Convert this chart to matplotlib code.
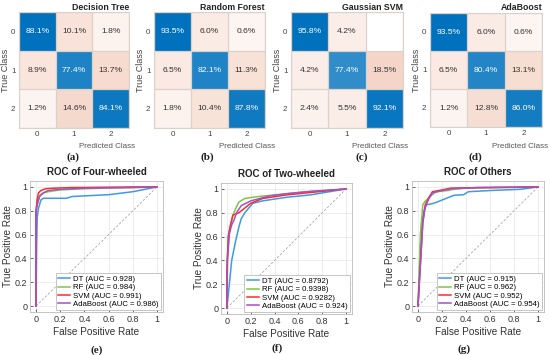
import matplotlib
matplotlib.use('Agg')
import matplotlib.pyplot as plt
import numpy as np

plt.rcParams['font.family'] = ['Liberation Sans', 'DejaVu Sans']

W, H = 550, 355

# ── confusion matrices (row-normalised %) ─────────────────────────────────────
cm_titles = ["Decision Tree", "Random Forest", "Gaussian SVM", "AdaBoost"]
cm_dt  = [[88.1, 10.1, 1.8], [8.9, 77.4, 13.7], [1.2, 14.6, 84.1]]
cm_rf  = [[93.5, 6.0, 0.6], [6.5, 82.1, 11.3], [1.8, 10.4, 87.8]]
cm_svm = [[95.8, 4.2, 0.0], [4.2, 77.4, 18.5], [2.4, 5.5, 92.1]]
cm_ada = [[93.5, 6.0, 0.6], [6.5, 80.4, 13.1], [1.2, 12.8, 86.0]]
class_labels = ["0", "1", "2"]
cm_panels = ["(a)", "(b)", "(c)", "(d)"]

# ── ROC curves (fpr, tpr) ─────────────────────────────────────────────────────
roc_titles = ["ROC of Four-wheeled", "ROC of Two-wheeled", "ROC of Others"]
roc_panels = ["(e)", "(f)", "(g)"]
models = ["DT", "RF", "SVM", "AdaBoost"]
auc_4w = ["0.928", "0.984", "0.991", "0.986"]
auc_2w = ["0.8792", "0.9398", "0.9282", "0.924"]
auc_ot = ["0.915", "0.962", "0.952", "0.954"]

fw_dt_x  = [0, 0.005, 0.01, 0.02, 0.04, 0.06, 0.1, 0.25, 0.3, 0.5, 0.6, 0.8, 1]
fw_dt_y  = [0, 0.5, 0.75, 0.82, 0.89, 0.905, 0.905, 0.905, 0.92, 0.93, 0.935, 0.96, 1]
fw_rf_x  = [0, 0, 0.01, 0.03, 0.06, 0.1, 0.2, 0.4, 0.6, 1]
fw_rf_y  = [0, 0.8, 0.88, 0.93, 0.95, 0.96, 0.975, 0.985, 0.99, 1]
fw_svm_x = [0, 0, 0.01, 0.02, 0.04, 0.08, 0.15, 0.3, 0.8, 1]
fw_svm_y = [0, 0.8, 0.9, 0.95, 0.97, 0.985, 0.99, 0.995, 1, 1]
fw_ada_x = [0, 0, 0.01, 0.03, 0.06, 0.1, 0.2, 0.4, 0.8, 1]
fw_ada_y = [0, 0.78, 0.85, 0.92, 0.95, 0.97, 0.98, 0.99, 0.995, 1]

tw_dt_x  = [0, 0.02, 0.04, 0.07, 0.1, 0.12, 0.15, 0.2, 0.22, 0.3, 0.5, 0.7, 1]
tw_dt_y  = [0, 0.2, 0.4, 0.55, 0.68, 0.75, 0.8, 0.86, 0.88, 0.9, 0.93, 0.95, 1]
tw_rf_x  = [0, 0, 0.02, 0.05, 0.08, 0.1, 0.15, 0.25, 0.4, 0.6, 0.8, 1]
tw_rf_y  = [0, 0.4, 0.65, 0.78, 0.85, 0.89, 0.92, 0.935, 0.95, 0.97, 0.985, 1]
tw_svm_x = [0, 0, 0.01, 0.03, 0.05, 0.1, 0.15, 0.2, 0.3, 0.5, 0.7, 1]
tw_svm_y = [0, 0.3, 0.6, 0.7, 0.78, 0.8, 0.84, 0.88, 0.92, 0.95, 0.97, 1]
tw_ada_x = [0, 0.005, 0.02, 0.04, 0.06, 0.08, 0.12, 0.2, 0.35, 0.5, 0.7, 1]
tw_ada_y = [0, 0.4, 0.62, 0.7, 0.74, 0.8, 0.86, 0.9, 0.94, 0.96, 0.98, 1]

ot_dt_x  = [0, 0.03, 0.05, 0.07, 0.12, 0.15, 0.2, 0.25, 0.3, 0.38, 0.42, 0.6, 0.85, 1]
ot_dt_y  = [0, 0.7, 0.8, 0.85, 0.86, 0.87, 0.89, 0.91, 0.93, 0.935, 0.96, 0.97, 0.98, 1]
ot_rf_x  = [0, 0.02, 0.04, 0.06, 0.1, 0.15, 0.25, 0.3, 0.4, 1]
ot_rf_y  = [0, 0.6, 0.85, 0.88, 0.92, 0.96, 0.97, 0.98, 0.99, 1]
ot_svm_x = [0, 0.04, 0.06, 0.09, 0.12, 0.2, 0.27, 0.5, 1]
ot_svm_y = [0, 0.7, 0.85, 0.91, 0.96, 0.975, 0.99, 0.995, 1]
ot_ada_x = [0, 0.04, 0.06, 0.09, 0.12, 0.2, 0.28, 0.5, 0.8, 1]
ot_ada_y = [0, 0.7, 0.83, 0.9, 0.95, 0.97, 0.985, 0.995, 0.997, 1]

roc_colors = ['#3D9BE3', '#7DC843', '#FF2A2A', '#A64FC9']

BLUE = np.array([0.0, 0.447, 0.741])
ORNG = np.array([0.85, 0.325, 0.098])
EDGE = '#DCD2CC'

fig = plt.figure(figsize=(W / 100, H / 100), dpi=100)
fig.patch.set_facecolor('white')


def px_axes(x0, y0, x1, y1):
    return fig.add_axes([x0 / W, 1 - y1 / H, (x1 - x0) / W, (y1 - y0) / H])


def cell_rgb(v, vmax, diag):
    if v <= 0:
        return np.ones(3)
    if diag:
        t = min(1.0, v / vmax)
        return 1 - t * (1 - BLUE)
    t = min(1.0, 0.05 + 1.0 * v / vmax)
    return 1 - t * (1 - ORNG)


# ── top row: confusion charts ────────────────────────────────────────────────
cm_boxes = [(19, 12, 129, 128), (154, 12, 265, 128), (291, 12, 403, 128), (430, 13, 542, 127)]
cm_xlab = [107, 247, 380, 520]
cm_plab = [73, 207, 362, 475]
for k, cm in enumerate([cm_dt, cm_rf, cm_svm, cm_ada]):
    cm = np.array(cm)
    ax = px_axes(*cm_boxes[k])
    vmax = cm.max()
    img = np.zeros((3, 3, 3))
    for i in range(3):
        for j in range(3):
            img[i, j] = cell_rgb(cm[i, j], vmax, i == j)
    ax.imshow(img, aspect='auto', extent=(-0.5, 2.5, 2.5, -0.5))
    for b in np.arange(-0.5, 3, 1.0):
        ax.axhline(b, color=EDGE, lw=0.9)
        ax.axvline(b, color=EDGE, lw=0.9)
    for i in range(3):
        for j in range(3):
            v = cm[i, j]
            if v <= 0:
                continue
            ax.text(j, i, f'{v:.1f}%', ha='center', va='center', fontsize=6.1,
                    color='white' if i == j else '#333333')
    ax.set_xlim(-0.5, 2.5)
    ax.set_ylim(2.5, -0.5)
    ax.set_xticks(range(3))
    ax.set_yticks(range(3))
    ax.set_xticklabels(class_labels)
    ax.set_yticklabels(class_labels)
    ax.tick_params(length=0, labelsize=5.8, colors='#444444', pad=2.5)
    for s in ax.spines.values():
        s.set_color(EDGE)
    ax.set_ylabel('True Class', fontsize=6.5, color='#444444', labelpad=1)
    x0, y0, x1, y1 = cm_boxes[k]
    fig.text(x1 / W, 1 - (y0 - 5) / H, cm_titles[k], ha='right', va='center',
             fontsize=6.3, fontweight='bold', color='#222222')
    fig.text(cm_xlab[k] / W, 1 - 146 / H, 'Predicted Class', ha='center', va='center',
             fontsize=5.8, color='#555555')
    fig.text(cm_plab[k] / W, 1 - 157 / H, cm_panels[k], ha='center', va='center',
             fontsize=8, fontweight='bold', family='Liberation Serif', color='#222222')

# ── bottom row: ROC curves ───────────────────────────────────────────────────
roc_data = [
    [(fw_dt_x, fw_dt_y), (fw_rf_x, fw_rf_y), (fw_svm_x, fw_svm_y), (fw_ada_x, fw_ada_y)],
    [(tw_dt_x, tw_dt_y), (tw_rf_x, tw_rf_y), (tw_svm_x, tw_svm_y), (tw_ada_x, tw_ada_y)],
    [(ot_dt_x, ot_dt_y), (ot_rf_x, ot_rf_y), (ot_svm_x, ot_svm_y), (ot_ada_x, ot_ada_y)],
]
roc_aucs = [auc_4w, auc_2w, auc_ot]
roc_boxes = [(30, 181, 163, 312), (221, 183, 352, 314), (412, 181, 544, 312)]
roc_plab = [(97, 350), (277, 348), (464, 349)]
ticks = [0, 0.2, 0.4, 0.6, 0.8, 1]
tick_lbls = ['0', '0.2', '0.4', '0.6', '0.8', '1']
for k in range(3):
    ax = px_axes(*roc_boxes[k])
    ax.plot([0, 1], [0, 1], color='#A8A8A8', lw=0.6, ls=(0, (3, 2)))
    for m, (xs, ys) in enumerate(roc_data[k]):
        ax.plot(xs, ys, color=roc_colors[m], lw=1.1,
                label=f'{models[m]} (AUC = {roc_aucs[k][m]})')
    ax.set_xlim(-0.05, 1.05)
    ax.set_ylim(-0.05, 1.05)
    ax.set_xticks(ticks)
    ax.set_yticks(ticks)
    ax.set_xticklabels(tick_lbls)
    ax.set_yticklabels(tick_lbls)
    ax.grid(True, color='#E6E6E6', lw=0.5)
    ax.set_axisbelow(True)
    ax.tick_params(direction='in', length=2, width=0.5, labelsize=6.5,
                   colors='#333333', pad=2)
    for s in ax.spines.values():
        s.set_color('#BBBBBB')
        s.set_linewidth(0.6)
    ax.set_title(roc_titles[k], fontsize=7, fontweight='bold', pad=4, color='#222222')
    ax.set_xlabel('False Positive Rate', fontsize=7.2, color='#333333', labelpad=2)
    ax.set_ylabel('True Positive Rate', fontsize=7.2, color='#333333', labelpad=1)
    leg = ax.legend(loc='lower right', fontsize=5.6, handlelength=1.6,
                    handletextpad=0.4, borderpad=0.3, labelspacing=0.12,
                    borderaxespad=0.2, fancybox=False, framealpha=1)
    leg.get_frame().set_edgecolor('#BBBBBB')
    leg.get_frame().set_linewidth(0.6)
    fig.text(roc_plab[k][0] / W, 1 - roc_plab[k][1] / H, roc_panels[k], ha='center',
             va='center', fontsize=8, fontweight='bold', family='Liberation Serif',
             color='#222222')

plt.savefig('out.png', dpi=100, facecolor='white')
plt.close()
